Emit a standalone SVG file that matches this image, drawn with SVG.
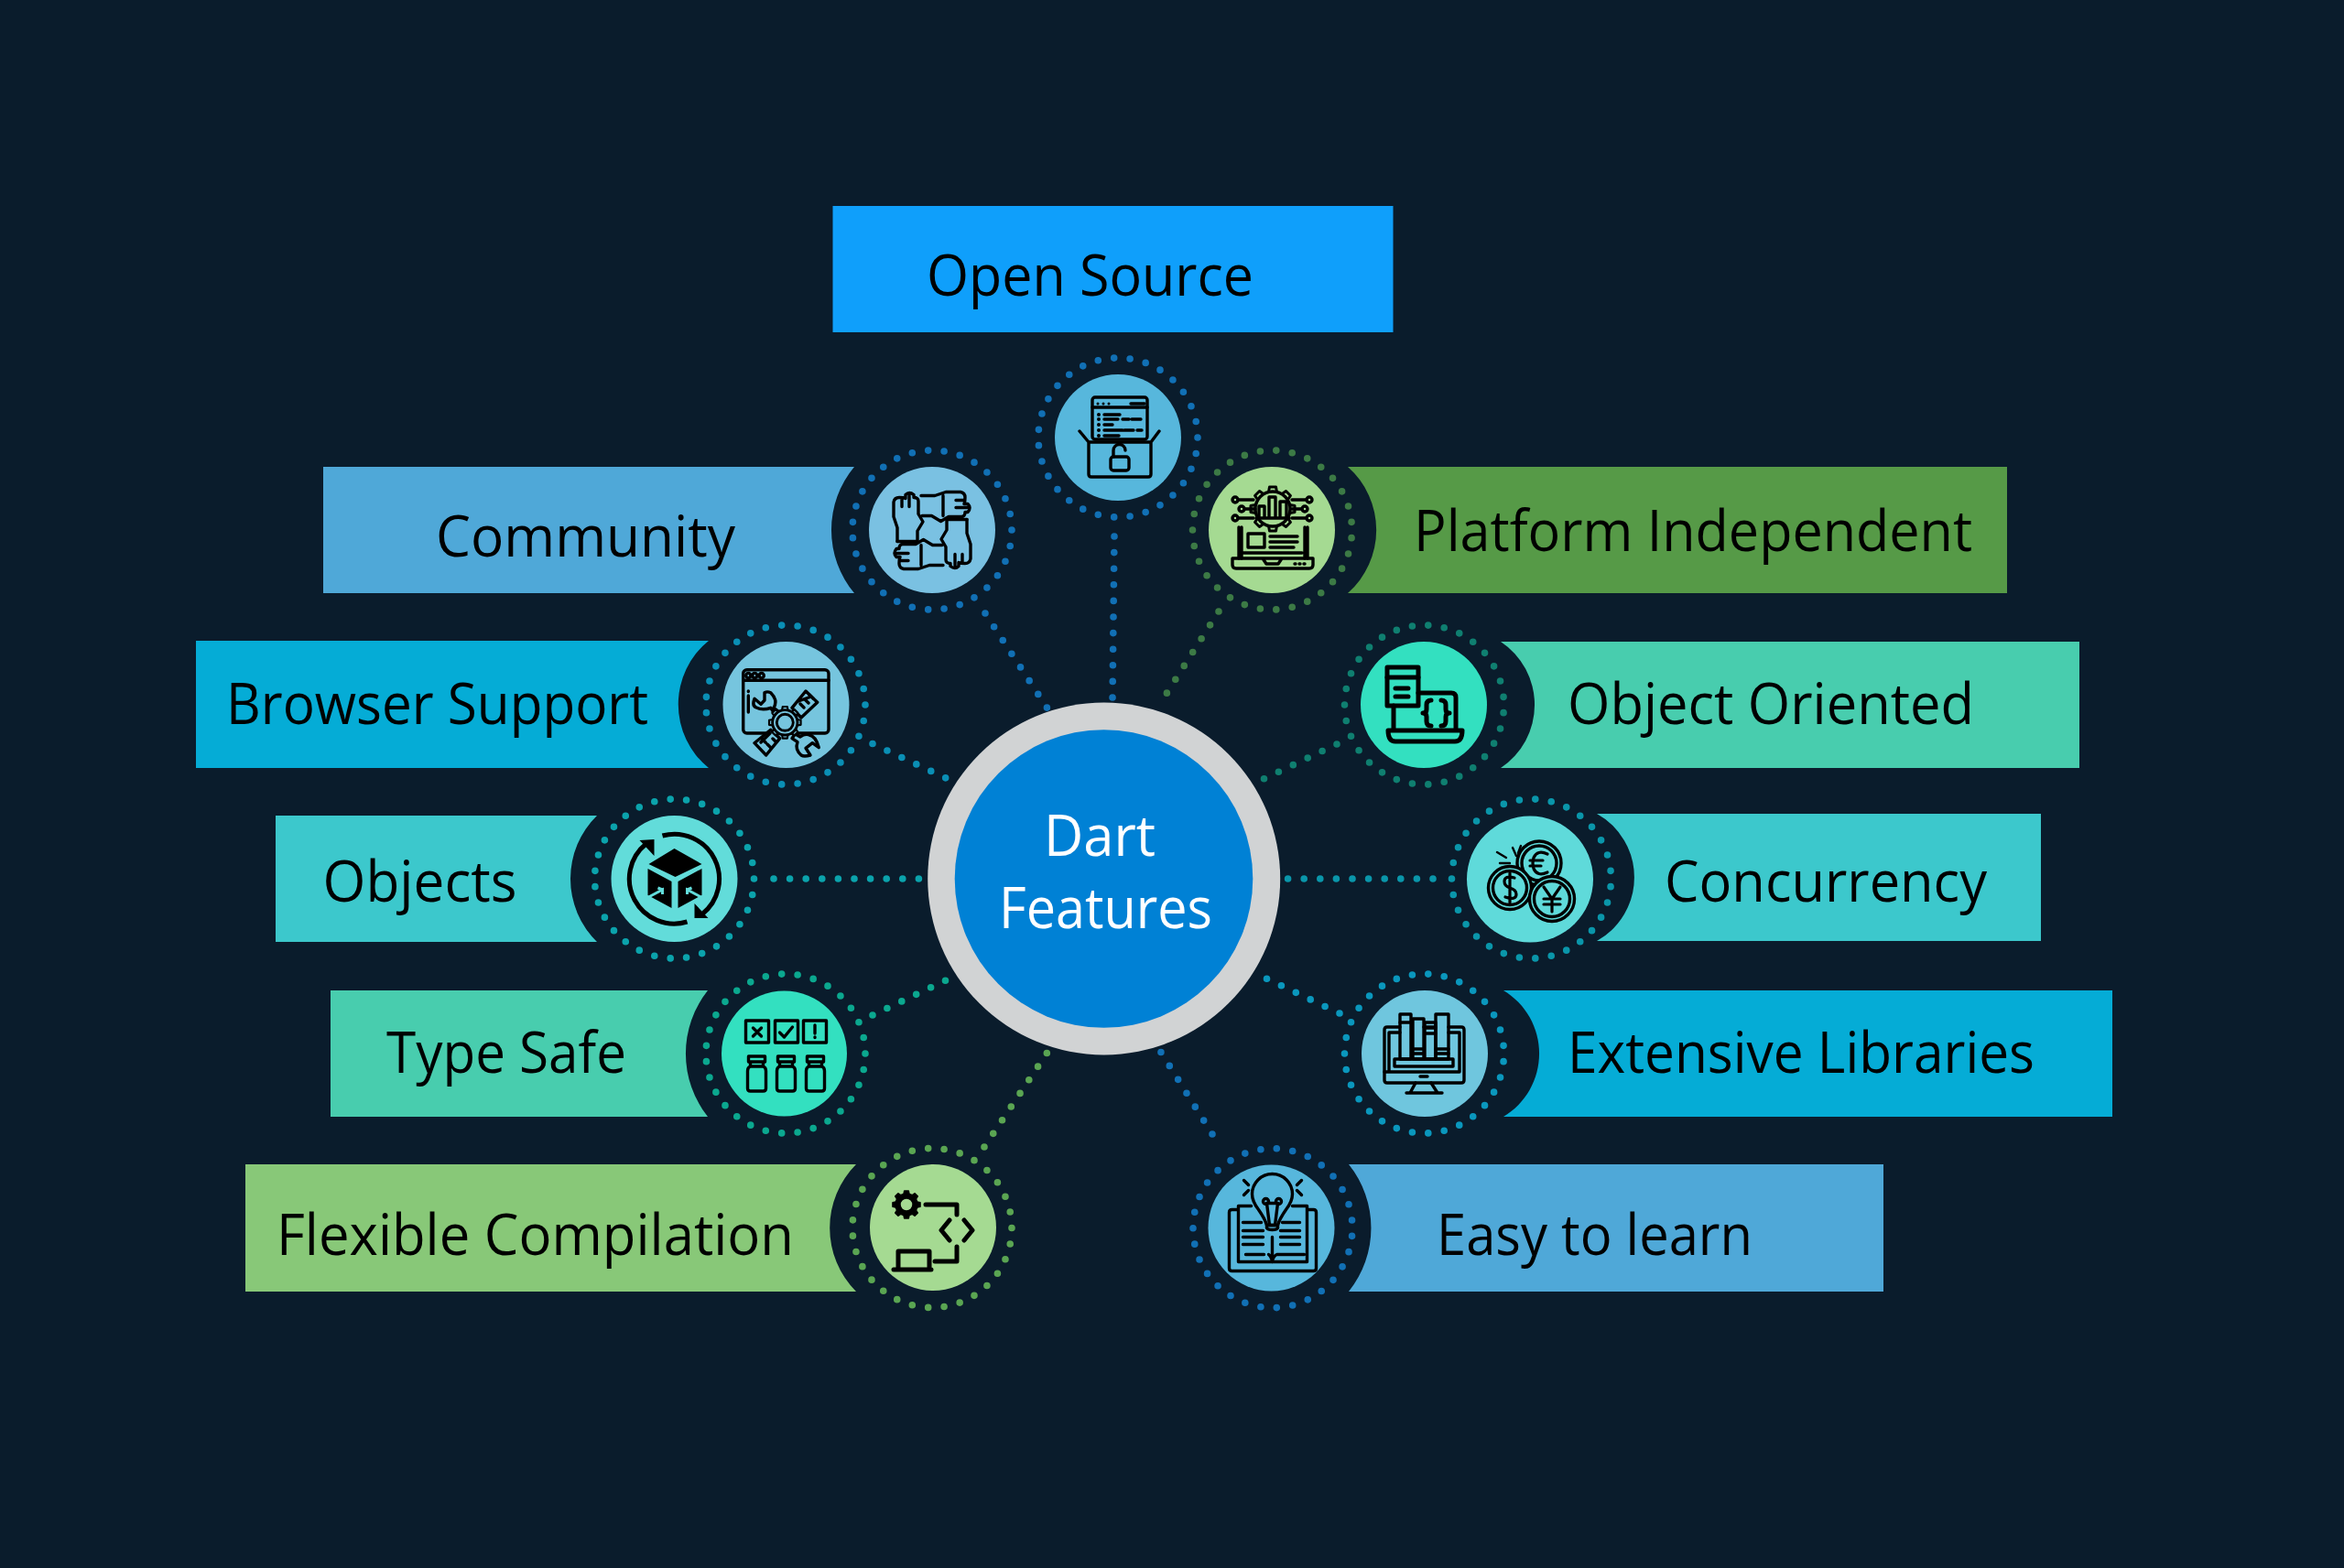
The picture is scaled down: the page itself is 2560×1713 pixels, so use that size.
<svg xmlns="http://www.w3.org/2000/svg" xmlns:xlink="http://www.w3.org/1999/xlink" width="2560" height="1713" viewBox="0 0 2560 1713">
<style>
text{font-family:"Open Sans","Noto Sans","Liberation Sans",sans-serif;font-size:61.5px;fill:#000}
.c{fill:#fff}
.ring{fill:none;stroke-width:7.6;stroke-linecap:round;stroke-dasharray:0 1}
.conn{fill:none;stroke-width:7.6;stroke-linecap:round;stroke-dasharray:0 17.6}
.ic{fill:none;stroke:#000;stroke-width:3.4;stroke-linecap:round;stroke-linejoin:round}
.th{stroke-width:5}
.k{fill:#000;stroke:none}
</style>
<defs>
<path id="tooth" d="M-4.5 -18.5L-3.5 -24H3.5L4.5 -18.5" stroke="#000" stroke-width="3"/>
<g id="gear24">
<use xlink:href="#tooth"/><use xlink:href="#tooth" transform="rotate(45)"/><use xlink:href="#tooth" transform="rotate(90)"/><use xlink:href="#tooth" transform="rotate(135)"/><use xlink:href="#tooth" transform="rotate(180)"/><use xlink:href="#tooth" transform="rotate(225)"/><use xlink:href="#tooth" transform="rotate(270)"/><use xlink:href="#tooth" transform="rotate(315)"/>
</g>
<path id="hand" d="M-38 12V-3L-42 -15V-31Q-41 -36 -36 -36Q-31 -36 -29 -35V-39Q-25 -43 -20 -39V-36Q-15 -36 -15 -32V-18L-10 -9.500L-16 0.500V11M-33 -34V-26M-25 -38V-26"/>
</defs>
<rect id="background" width="2560" height="1713" fill="#0a1c2c"/>

<g id="bars">
<rect x="909.5" y="225" width="612" height="138" fill="#0f9ffb"/>
<path d="M353 510H933A107.7 107.7 0 0 0 933 648H353Z" fill="#4fa8d8"/>
<path d="M214 700H774A89.3 89.3 0 0 0 774 839H214Z" fill="#05acd6"/>
<path d="M301 891H652A96.6 96.6 0 0 0 652 1029H301Z" fill="#3cc8cc"/>
<path d="M361 1082H773A111 111 0 0 0 773 1220H361Z" fill="#48cdae"/>
<path d="M268 1272H935A98.3 98.3 0 0 0 935 1411H268Z" fill="#88c878"/>
<path d="M2192 510H1472A92 92 0 0 1 1472 648H2192Z" fill="#569a47"/>
<path d="M2271 701H1639A82.8 82.8 0 0 1 1639 839H2271Z" fill="#48cdae"/>
<path d="M2229 889H1744A79.5 79.5 0 0 1 1744 1028H2229Z" fill="#3cc8cc"/>
<path d="M2307 1082H1642A80.5 80.5 0 0 1 1642 1220H2307Z" fill="#05acd6"/>
<path d="M2057 1272H1473A111 111 0 0 1 1473 1411H2057Z" fill="#4fa8d8"/>
</g>

<g id="connectors">
<line class="conn" stroke="#1170b5" x1="1217" y1="586" x2="1215" y2="765"/>
<line class="conn" stroke="#1170b5" x1="1076" y1="670" x2="1144" y2="774"/>
<line class="conn" stroke="#0a8fb5" x1="953" y1="812.5" x2="1033" y2="850"/>
<line class="conn" stroke="#0ba3ac" x1="845" y1="960" x2="1004" y2="960"/>
<line class="conn" stroke="#0ba88f" x1="953" y1="1109" x2="1033" y2="1071"/>
<line class="conn" stroke="#5aa552" x1="1075" y1="1253" x2="1145" y2="1148"/>
<line class="conn" stroke="#3c7a45" x1="1331" y1="668" x2="1270" y2="764"/>
<line class="conn" stroke="#0f7f70" x1="1460" y1="813" x2="1380" y2="851"/>
<line class="conn" stroke="#0a96aa" x1="1565" y1="960" x2="1404" y2="960"/>
<line class="conn" stroke="#0a97bd" x1="1463" y1="1107" x2="1383" y2="1069"/>
<line class="conn" stroke="#1170b5" x1="1324" y1="1239" x2="1267" y2="1148"/>
</g>

<g id="node-center">
<circle cx="1205.7" cy="960" r="192.5" fill="#d1d3d4"/>
<circle cx="1205.5" cy="960" r="162.8" fill="#0081d5"/>
<text class="c" x="1140" y="935" textLength="122" lengthAdjust="spacingAndGlyphs">Dart</text>
<text class="c" x="1091" y="1014" textLength="233" lengthAdjust="spacingAndGlyphs">Features</text>
</g>

<g id="node-open-source">
<text x="1012" y="323" textLength="357" lengthAdjust="spacingAndGlyphs">Open Source</text>
<circle cx="1221" cy="478" r="69" fill="#57b7dc"/>
<circle class="ring" cx="1221" cy="478" r="87" pathLength="31" stroke="#1170b5"/>
<g transform="translate(1221 478)" class="ic">
<rect x="-28" y="-44" width="60" height="46" rx="3"/>
<path d="M-28 -33H32M14 -37H29M-15 -25H2M-15 -20H0M5 -20H12M15 -20H25M-15 -14H-6M-15 -8H5M7 -8H17M21 -8H26M-15 -2H1"/>
<path class="k" d="M-23.5 -37a1.5 1.5 0 1 0 3 0a1.5 1.5 0 1 0 -3 0M-17.5 -37a1.5 1.5 0 1 0 3 0a1.5 1.5 0 1 0 -3 0M-11.5 -37a1.5 1.5 0 1 0 3 0a1.5 1.5 0 1 0 -3 0M-23 -25a2 2 0 1 0 4 0a2 2 0 1 0 -4 0M-23 -20a2 2 0 1 0 4 0a2 2 0 1 0 -4 0M-23 -14a2 2 0 1 0 4 0a2 2 0 1 0 -4 0M-23 -8a2 2 0 1 0 4 0a2 2 0 1 0 -4 0M-23 -2a2 2 0 1 0 4 0a2 2 0 1 0 -4 0"/>
<path d="M-42 -7L-32 5V40Q-32 43 -29 43H33Q36 43 36 40V5L45 -7M-32 5H36"/>
<rect x="-8" y="21" width="20" height="15" rx="3"/>
<path d="M-5 21V14a6.5 6.5 0 0 1 13 0"/>
</g>
</g>

<g id="node-community">
<text x="476" y="608" textLength="327" lengthAdjust="spacingAndGlyphs">Community</text>
<circle cx="1018" cy="579" r="69" fill="#7ac1e2"/>
<circle class="ring" cx="1018" cy="579" r="87" pathLength="31" stroke="#1170b5"/>
<g transform="translate(1018 579.5)" class="ic">
<use xlink:href="#hand"/><use xlink:href="#hand" transform="rotate(90)"/><use xlink:href="#hand" transform="rotate(180)"/><use xlink:href="#hand" transform="rotate(270)"/>
<path d="M-38 12H-16M12 -38V-16M38 -12H16M-12 38V16"/>
</g>
</g>

<g id="node-browser-support">
<text x="247" y="791" textLength="461" lengthAdjust="spacingAndGlyphs">Browser Support</text>
<circle cx="858.5" cy="770" r="69" fill="#76c5de"/>
<circle class="ring" cx="858" cy="770" r="87" pathLength="31" stroke="#0a8fb5"/>
<g transform="translate(858 770)" class="ic" stroke-width="2.800">
<rect x="-46.300" y="-38.300" width="93.300" height="69.300" rx="4"/>
<path d="M-46.300 -26.700H47M-40.700 -15V-14.500M-40.700 -10V8"/>
<circle cx="-40.700" cy="-32" r="2.600"/><circle cx="-33.700" cy="-32" r="2.600"/><circle cx="-26.300" cy="-32" r="2.600"/>
<path fill="#76c5de" d="M7 3.300L22 -15L34.700 -2.700L17 14ZM-16.300 27.300L-34 41.700L-21.300 55L-6.300 36.700Z"/>
<path d="M14 -4L28 -9M16 -1L20 3M21 -6L25 -2M26 -11L30 -7M-27 41L-17 31M-26 37L-22 41M-20 43L-16 47M-14 37L-11 40"/>
<path fill="#76c5de" d="M-23 -13.300V-5L-27 -0.700L-34 -6.700Q-37 1 -32 3Q-25 6.500 -16.300 3.300L-10.700 11.700L-6.300 8.300L-13 3.300Q-8 -5 -16.300 -13.300Q-20 -15 -23 -13.300Z"/>
<path fill="#76c5de" d="M10.300 31.700L16 35Q21 31 25.300 32.700Q33 34 36.300 46.700L29.300 41.700L22 47.300L27 55Q20 57 17 55Q10 49 13 40.700L7 36.700Z"/>
<g transform="translate(-0.700 19.300) scale(.72)" fill="#76c5de"><use xlink:href="#gear24"/><circle r="19" stroke-width="4"/><circle r="12.500" stroke-width="4"/></g>
</g>
</g>

<g id="node-objects">
<text x="352.500" y="985" textLength="212" lengthAdjust="spacingAndGlyphs">Objects</text>
<circle cx="736.5" cy="960" r="69" fill="#62dcda"/>
<circle class="ring" cx="736.5" cy="960" r="87" pathLength="31" stroke="#0ba3ac"/>
<g transform="translate(736.5 960)">
<path fill="none" stroke="#000" stroke-width="5" d="M-13 -47A49 49 0 0 1 30 39M14 47A49 49 0 0 1 -31 -38"/>
<path class="k" d="M-22 -43V-25L-38 -42ZM22 27V43H37Z"/>
<path class="k" d="M0 -33L30 -16L1 -2L-28 -16ZM-29 -11L-3 3V32L-29 18ZM4 3L30 -11V18L4 32Z"/>
<path fill="none" stroke="#62dcda" stroke-width="3" d="M-30 21L-13 12L-13 17M-13 12L-18 10M31 21L14 12L14 17M14 12L19 10"/>
</g>
</g>

<g id="node-type-safe">
<text x="422" y="1172" textLength="262" lengthAdjust="spacingAndGlyphs">Type Safe</text>
<circle cx="856.5" cy="1151" r="68.5" fill="#33e0c0"/>
<circle class="ring" cx="858" cy="1151" r="87" pathLength="31" stroke="#0ba88f"/>
<g transform="translate(856.5 1151)" class="ic" stroke-width="3">
<rect x="-42" y="-36" width="25" height="24"/><rect x="-10" y="-36" width="25" height="24"/><rect x="21" y="-36" width="25" height="24"/>
<path d="M-34 -28L-25 -19M-25 -28L-34 -19M-5 -23L0 -18L9 -29M33.5 -31V-22M33.5 -18V-17.500"/>
<path d="M-39 3H-21V9H-39ZM-37 9V14H-23V9M-37 14Q-40 15 -40 19V38Q-40 41 -37 41H-23Q-20 41 -20 38V19Q-20 15 -23 14"/>
<path d="M-7 3H11V9H-7ZM-5 9V14H9V9M-5 14Q-8 15 -8 19V38Q-8 41 -5 41H9Q12 41 12 38V19Q12 15 9 14"/>
<path d="M25 3H43V9H25ZM27 9V14H41V9M27 14Q24 15 24 19V38Q24 41 27 41H41Q44 41 44 38V19Q44 15 41 14"/>
</g>
</g>

<g id="node-flexible-compilation">
<text x="302" y="1371" textLength="565" lengthAdjust="spacingAndGlyphs">Flexible Compilation</text>
<circle cx="1019" cy="1341" r="69" fill="#a5da92"/>
<circle class="ring" cx="1018" cy="1341.500" r="87" pathLength="31" stroke="#5aa552"/>
<g transform="translate(1019 1341)" class="ic th">
<g transform="translate(-29 -25) scale(.62)" fill="#000"><use xlink:href="#gear24"/></g>
<circle cx="-29" cy="-25" r="9.500" stroke-width="6.500"/>
<path d="M-8 -25H26V-14M18 -8L9 3L18 14M34 -8L43 3L34 14M26 21V37H2"/>
<path d="M-38 45V26H-4V45M-43 46H-2"/>
</g>
</g>

<g id="node-platform-independent">
<text x="1544" y="602" textLength="610" lengthAdjust="spacingAndGlyphs">Platform Independent</text>
<circle cx="1389" cy="579" r="69" fill="#a5da92"/>
<circle class="ring" cx="1389.500" cy="579" r="87" pathLength="31" stroke="#3c7a45" transform="rotate(180 1389.500 579)"/>
<g transform="translate(1389 579)" class="ic" stroke-width="3">
<path d="M-33 -3V31M-36 -3V31M36 -3V31M39 -3V31M-31 25H33"/>
<g transform="translate(1 -23)" fill="#a5da92"><use xlink:href="#gear24"/><circle r="19"/></g>
<path d="M-14 -13V-26H-8V-13M-3 -13V-36H4V-13M9 -13V-31H16V-13M-17 -13H19"/>
<path d="M-37 -33H-20M-30 -23H-18M-37 -13H-20M38 -33H22M33 -23H22M38 -13H22"/>
<circle cx="-40" cy="-33" r="3"/><circle cx="-33" cy="-23" r="3"/><circle cx="-40" cy="-13" r="3"/><circle cx="41" cy="-33" r="3"/><circle cx="36" cy="-23" r="3"/><circle cx="41" cy="-13" r="3"/>
<rect x="-26" y="4" width="18" height="15"/>
<path d="M-2 7H28M-2 13H28M-2 19H24"/>
<path d="M-43 31H45V38Q45 42 41 42H-39Q-43 42 -43 38ZM-10 31L-6 37H7L11 31M25 37H26M30 37H31M35 37H36"/>
</g>
</g>

<g id="node-object-oriented">
<text x="1712" y="791" textLength="444" lengthAdjust="spacingAndGlyphs">Object Oriented</text>
<circle cx="1555" cy="770" r="69" fill="#33e0c0"/>
<circle class="ring" cx="1555.500" cy="770" r="87" pathLength="31" stroke="#0f7f70" transform="rotate(180 1555.500 770)"/>
<g transform="translate(1555 770)" class="ic th">
<rect x="-40" y="-41" width="34" height="42"/>
<path d="M-40 -30H-6M-31 -18H-17M-31 -9H-17"/>
<path d="M-6 -13H30Q35 -13 35 -8V27M-33 1V27"/>
<path d="M-39 28H42Q42 40 34 40H-31Q-39 40 -39 28Z"/>
<path d="M8 -5Q3 -5 3 0V5Q3 9 -1 9Q3 9 3 13V18Q3 23 8 23M19 -5Q24 -5 24 0V5Q24 9 28 9Q24 9 24 13V18Q24 23 19 23"/>
</g>
</g>

<g id="node-concurrency">
<text x="1818" y="985" textLength="352" lengthAdjust="spacingAndGlyphs">Concurrency</text>
<circle cx="1671" cy="960.500" r="69" fill="#5fdada"/>
<circle class="ring" cx="1672.500" cy="960" r="87" pathLength="31" stroke="#0a96aa" transform="rotate(180 1672.500 960)"/>
<g transform="translate(1671 960)" class="ic" stroke-width="2.800">
<circle cx="10" cy="-17" r="24" fill="#5fdada"/><circle cx="10" cy="-17" r="19"/>
<circle cx="-22" cy="10" r="23.500" fill="#5fdada"/><circle cx="-22" cy="10" r="18.500"/>
<circle cx="24" cy="22" r="24.500" fill="#5fdada"/><circle cx="24" cy="22" r="19.500"/>
<path d="M-10 -36L-13 -28M-19 -34L-15 -25M-36 -29L-26 -23M-33 -17L-22 -17" stroke-width="2.400"/>
<path d="M19 -27Q8 -32 4 -23Q2 -17 4 -11Q8 -2 19 -7M0 -20H14M0 -14H12" stroke-width="3.200"/>
<path d="M-17 -1Q-28 -4 -28 3Q-28 8 -22 10Q-15 12 -15 17Q-15 24 -27 20M-22 -6V26" stroke-width="3.200"/>
<path d="M15 9L24 22L33 9M24 22V36M15 22H33M15 28H33" stroke-width="3.200"/>
</g>
</g>

<g id="node-extensive-libraries">
<text x="1712" y="1172" textLength="510" lengthAdjust="spacingAndGlyphs">Extensive Libraries</text>
<circle cx="1556" cy="1151" r="69" fill="#6fc6de"/>
<circle class="ring" cx="1555.500" cy="1151" r="87" pathLength="31" stroke="#0a97bd" transform="rotate(180 1555.500 1151)"/>
<g transform="translate(1556 1151)" class="ic" stroke-width="3">
<path d="M-27 -29H-41Q-44 -29 -44 -26V29Q-44 32 -41 32H40Q43 32 43 29V-26Q43 -29 40 -29H26"/>
<path d="M-27 -23H-39V20H38V-23H26M-44 20H-39M-1 -29H12"/>
<rect x="-27" y="-43" width="12" height="49"/><rect x="-13" y="-38" width="12" height="44"/><rect x="0" y="-34" width="12" height="40"/><rect x="12" y="-43" width="14" height="49"/>
<path d="M-27 -34H-15M-13 -5H-1M-13 0H-1M0 -28H12M0 -22H12M12 -5H26M12 0H26"/>
<rect x="-33" y="6" width="64" height="8"/>
<path d="M-5 25H3M-10 32L-16 43M7 32L14 43M-20 43H19"/>
</g>
</g>

<g id="node-easy-to-learn">
<text x="1569" y="1371" textLength="345" lengthAdjust="spacingAndGlyphs">Easy to learn</text>
<circle cx="1388.500" cy="1341.500" r="69" fill="#57b7dc"/>
<circle class="ring" cx="1390" cy="1341.700" r="87" pathLength="31" stroke="#1170b5" transform="rotate(180 1390 1341.700)"/>
<g transform="translate(1388.500 1341.500)" class="ic" stroke-width="3">
<path d="M-36 -24V37H39V-24M-36 -24H-22M39 -24H23M-36 -20H-43Q-46 -20 -46 -17V44Q-46 47 -43 47H46Q49 47 49 44V-17Q49 -20 46 -20H39"/>
<path d="M-31 -6H-11M12 -6H31M-31 3H-9M10 3H31M-31 10H-9M10 10H31M-31 18H-9M10 18H31M1 10V37M-28 29H-8M-3 29Q-1 30 1 36Q3 30 6 29H36"/>
<path d="M-5 -3Q-7 -10 -14 -20Q-21 -29 -21 -37A22 22 0 0 1 23 -37Q23 -29 16 -20Q9 -10 7 -3Z"/>
<path d="M-5 -3H7V0Q6 2 1 2Q-4 2 -5 0ZM-2 -3L-5 -27M4 -3L7 -27M-5 -27H7"/>
<circle cx="-6" cy="-29" r="3"/><circle cx="8" cy="-29" r="3"/>
<path d="M-30 -52L-25 -47M-30 -36L-25 -41M33 -52L28 -47M28 -41L33 -36"/>
</g>
</g>
</svg>
